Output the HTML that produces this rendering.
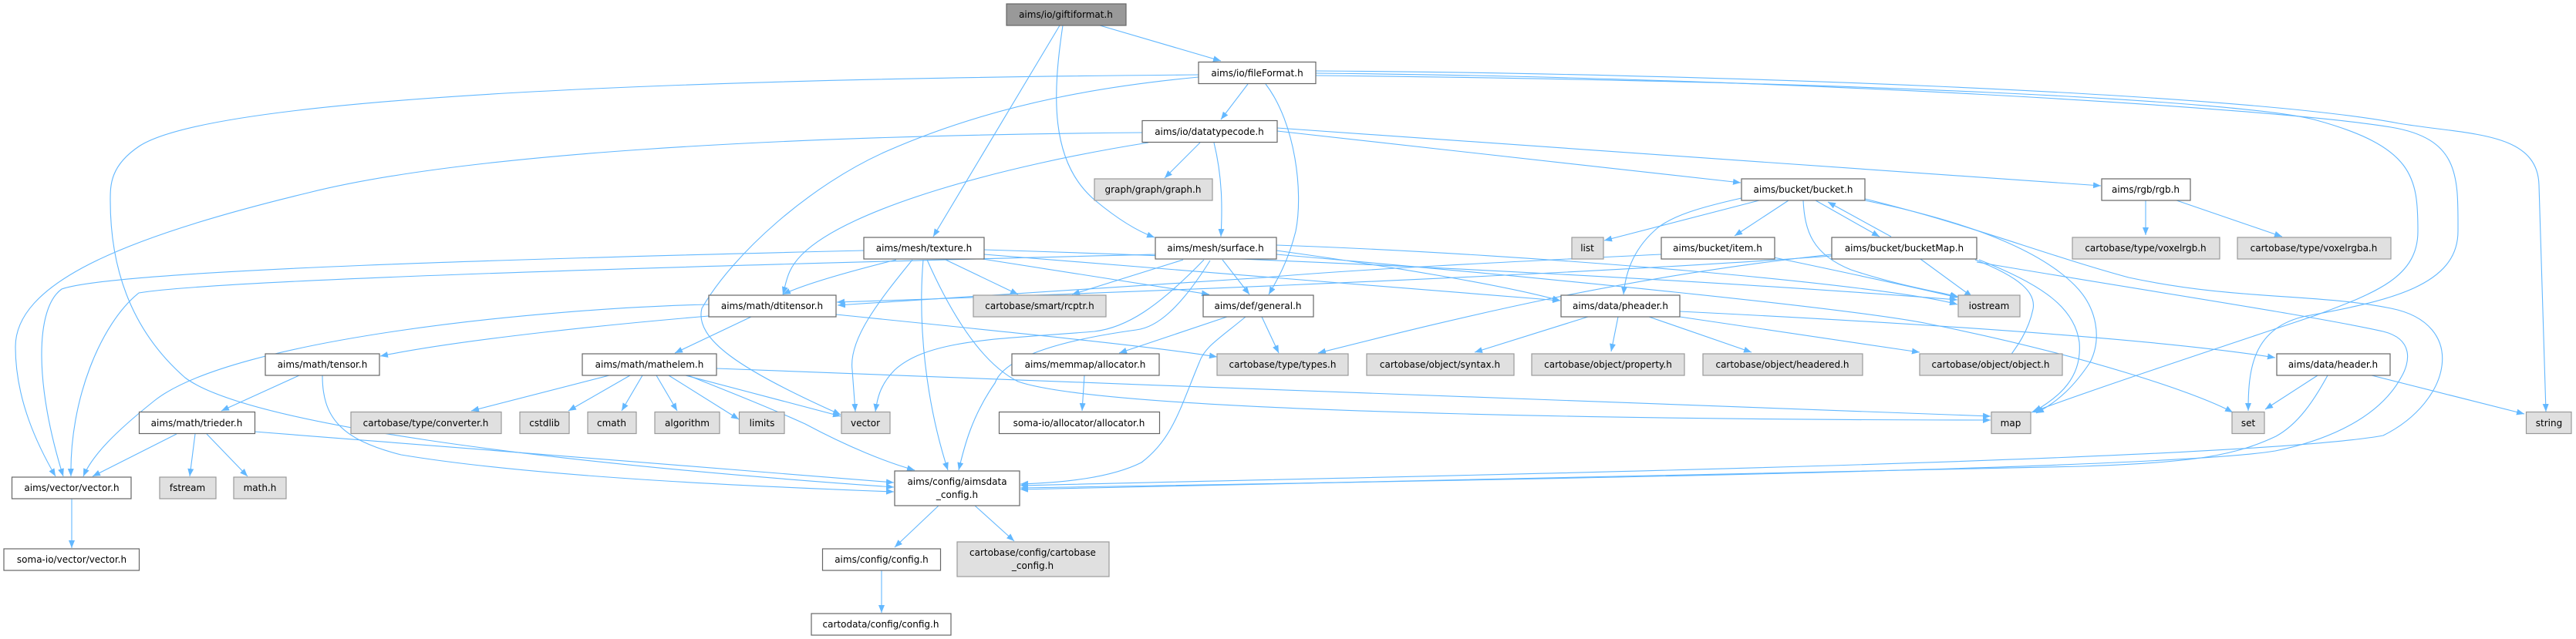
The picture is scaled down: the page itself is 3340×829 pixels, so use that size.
<!DOCTYPE html>
<html><head><meta charset="utf-8"><style>
html,body{margin:0;padding:0;background:#fff;}
svg{display:block;}
text{font-family:"DejaVu Sans","Liberation Sans",sans-serif;font-size:12px;fill:#000;text-anchor:middle;}
.e{fill:none;stroke:#63b8ff;stroke-width:1.1;marker-end:url(#a);}
.w{fill:#fff;stroke:#666;stroke-width:1.2;}
.g{fill:#e0e0e0;stroke:#999;stroke-width:1.2;}
</style></head><body>
<svg width="3340" height="829" viewBox="0 0 3340 829" xmlns="http://www.w3.org/2000/svg">
<defs><marker id="a" markerUnits="userSpaceOnUse" markerWidth="11" markerHeight="8" refX="10" refY="4" orient="auto"><path d="M0,0 L10,4 L0,8 z" fill="#63b8ff"/></marker></defs>
<g>
<path class="e" d="M1426,33 L1583,79"/>
<path class="e" d="M1374,33 L1210,307"/>
<path class="e" d="M1378,33 C1365,120 1360,210 1420,260 C1450,285 1475,300 1497,308"/>
<path class="e" d="M1554,97 C1200,100 300,110 180,190 C143,215 143,240 143,260 C143,330 160,420 240,490 C320,550 700,600 1159,632"/>
<path class="e" d="M1481,172 C1000,176 600,200 400,250 C150,310 20,370 20,450 C20,520 50,580 72,618"/>
<path class="e" d="M1120,325 C700,335 150,350 80,375 C45,400 45,500 82,618"/>
<path class="e" d="M1498,330 C1100,340 300,360 180,380 C130,420 90,520 92,618"/>
<path class="e" d="M919,395 C700,400 300,440 200,520 C150,560 120,590 108,618"/>
<path class="e" d="M1554,100 C1450,110 1300,130 1150,196 C1050,240 950,330 910,400 C900,440 960,480 1090,538"/>
<path class="e" d="M1618,109 L1583,155"/>
<path class="e" d="M1641,109 C1680,160 1690,250 1680,300 C1670,340 1655,365 1645,382"/>
<path class="e" d="M1706,92 C2200,95 2900,120 3110,160 C3200,175 3290,170 3292,240 L3301,534"/>
<path class="e" d="M1706,95 C2300,100 2950,140 3100,165 C3190,180 3187,230 3187,300 C3187,370 3100,390 2990,410 C2920,425 2915,480 2915,533"/>
<path class="e" d="M1706,98 C2400,105 2900,130 3000,155 C3130,190 3135,230 3135,300 C3135,360 3080,380 3000,410 C2850,460 2700,510 2634,535"/>
<path class="e" d="M1489,185 C1300,215 1100,270 1040,330 C1020,350 1020,365 1015,382"/>
<path class="e" d="M1556,185 L1510,231"/>
<path class="e" d="M1574,185 C1585,230 1585,270 1583,307"/>
<path class="e" d="M1656,170 L2257,237"/>
<path class="e" d="M1656,166 L2724,241"/>
<path class="e" d="M1162,337 C1090,355 1040,370 1015,382"/>
<path class="e" d="M1226,337 L1320,382"/>
<path class="e" d="M1274,336 L1568,382"/>
<path class="e" d="M1183,337 C1140,390 1100,440 1105,480 L1109,534"/>
<path class="e" d="M1197,337 C1190,420 1200,520 1229,610"/>
<path class="e" d="M1202,337 C1230,400 1270,470 1320,495 C1450,540 2300,545 2581,545"/>
<path class="e" d="M1276,330 L2023,390"/>
<path class="e" d="M1276,324 C1800,340 2300,370 2538,389"/>
<path class="e" d="M1534,337 L1390,382"/>
<path class="e" d="M1585,337 L1620,382"/>
<path class="e" d="M1561,337 C1500,400 1460,425 1419,430 C1300,440 1205,439 1160,480 C1140,500 1137,520 1135,534"/>
<path class="e" d="M1569,338 C1530,400 1500,425 1473,428 C1350,445 1300,470 1290,497 C1260,540 1250,580 1243,610"/>
<path class="e" d="M1655,325 C1800,345 1950,370 2023,390"/>
<path class="e" d="M1655,318 C2000,330 2450,370 2538,395"/>
<path class="e" d="M1655,330 C2000,360 2400,400 2500,420 C2700,460 2850,510 2895,535"/>
<path class="e" d="M2375,332 C2000,360 1300,385 1085,392"/>
<path class="e" d="M919,410 C800,420 600,440 493,462"/>
<path class="e" d="M974,411 L875,458"/>
<path class="e" d="M1084,408 C1300,430 1500,450 1578,463"/>
<path class="e" d="M388,487 L287,533"/>
<path class="e" d="M418,487 C418,540 440,570 520,590 C700,620 1000,632 1159,638"/>
<path class="e" d="M229,563 L120,618"/>
<path class="e" d="M253,563 L246,618"/>
<path class="e" d="M268,563 L321,618"/>
<path class="e" d="M330,560 C600,580 1000,615 1159,626"/>
<path class="e" d="M790,487 L611,533"/>
<path class="e" d="M817,487 L737,533"/>
<path class="e" d="M833,487 L806,533"/>
<path class="e" d="M851,487 L878,533"/>
<path class="e" d="M867,487 L958,544"/>
<path class="e" d="M889,487 L1090,540"/>
<path class="e" d="M892,487 C950,510 1000,530 1044,550 C1100,580 1150,600 1186,610"/>
<path class="e" d="M929,478 C1500,500 2300,530 2581,540"/>
<path class="e" d="M1591,411 L1451,458"/>
<path class="e" d="M1636,411 L1658,458"/>
<path class="e" d="M1615,411 C1580,440 1562,450 1555,470 C1530,530 1520,570 1480,600 C1440,620 1380,626 1323,628"/>
<path class="e" d="M1406,487 L1403,533"/>
<path class="e" d="M1217,656 L1160,710"/>
<path class="e" d="M1264,656 L1315,702"/>
<path class="e" d="M1143,740 L1143,795"/>
<path class="e" d="M93,647 L93,711"/>
<path class="e" d="M2281,260 L2080,312"/>
<path class="e" d="M2319,260 L2249,306"/>
<path class="e" d="M2354,260 L2437,307"/>
<path class="e" d="M2452,307 L2370,262"/>
<path class="e" d="M2258,257 C2200,270 2170,280 2150,295 C2120,320 2108,350 2105,382"/>
<path class="e" d="M2338,260 C2340,300 2350,330 2400,350 C2460,370 2510,378 2539,385"/>
<path class="e" d="M2418,260 C2540,285 2640,320 2690,370 C2720,400 2725,440 2710,470 C2690,500 2670,520 2640,536"/>
<path class="e" d="M2418,258 C2550,290 2650,330 2760,360 C2900,390 3000,380 3100,400 C3200,420 3180,520 3090,565 C2900,600 1700,620 1323,630"/>
<path class="e" d="M2490,336 L2557,385"/>
<path class="e" d="M2561,337 C2620,360 2640,380 2636,401 C2630,430 2615,450 2601,469"/>
<path class="e" d="M2566,337 C2650,370 2690,400 2696,444 C2700,490 2670,515 2637,534"/>
<path class="e" d="M2563,340 C2800,380 3000,410 3090,430 C3130,440 3125,470 3113,490 C3080,550 3000,575 2950,585 C2800,610 1800,625 1323,633"/>
<path class="e" d="M2375,330 C2100,360 1900,410 1709,458"/>
<path class="e" d="M2300,334 C2400,355 2480,372 2538,386"/>
<path class="e" d="M2154,330 C1950,340 1750,350 1640,360 C1350,380 1200,390 1086,396"/>
<path class="e" d="M2059,411 L1912,457"/>
<path class="e" d="M2098,411 L2089,456"/>
<path class="e" d="M2138,411 L2271,457"/>
<path class="e" d="M2178,411 L2489,457"/>
<path class="e" d="M2178,404 C2500,420 2800,440 2950,464"/>
<path class="e" d="M3005,487 L2937,531"/>
<path class="e" d="M3075,487 L3273,537"/>
<path class="e" d="M3018,487 C3000,520 2980,550 2951,566 C2900,590 2850,600 2700,605 C2300,615 1700,625 1323,635"/>
<path class="e" d="M2782,260 L2782,305"/>
<path class="e" d="M2822,260 L2959,307"/>
</g>
<g>
<rect x="1305" y="5" width="155" height="28" fill="#999" stroke="#666" stroke-width="1.2"/><text x="1382" y="23">aims/io/giftiformat.h</text>
<rect class="w" x="1554" y="80.5" width="152" height="28"/><text x="1630" y="99">aims/io/fileFormat.h</text>
<rect class="w" x="1481" y="156.5" width="175" height="28"/><text x="1568" y="175">aims/io/datatypecode.h</text>
<rect class="g" x="1419" y="232" width="153" height="28"/><text x="1495" y="250">graph/graph/graph.h</text>
<rect class="w" x="2258" y="232" width="160" height="28"/><text x="2338" y="250">aims/bucket/bucket.h</text>
<rect class="w" x="2725" y="232" width="115" height="28"/><text x="2782" y="250">aims/rgb/rgb.h</text>
<rect class="w" x="1120" y="308" width="156" height="28"/><text x="1198" y="326">aims/mesh/texture.h</text>
<rect class="w" x="1498" y="308" width="157" height="28"/><text x="1576" y="326">aims/mesh/surface.h</text>
<rect class="g" x="2038" y="308" width="41" height="28"/><text x="2058" y="326">list</text>
<rect class="w" x="2154" y="308" width="147" height="28"/><text x="2227" y="326">aims/bucket/item.h</text>
<rect class="w" x="2375" y="308" width="188" height="28"/><text x="2469" y="326">aims/bucket/bucketMap.h</text>
<rect class="g" x="2687" y="308" width="191" height="28"/><text x="2782" y="326">cartobase/type/voxelrgb.h</text>
<rect class="g" x="2901" y="308" width="199" height="28"/><text x="3000" y="326">cartobase/type/voxelrgba.h</text>
<rect class="w" x="919" y="383" width="165" height="28"/><text x="1001" y="401">aims/math/dtitensor.h</text>
<rect class="g" x="1262" y="383" width="172" height="28"/><text x="1348" y="401">cartobase/smart/rcptr.h</text>
<rect class="w" x="1560" y="383" width="143" height="28"/><text x="1631" y="401">aims/def/general.h</text>
<rect class="w" x="2024" y="383" width="154" height="28"/><text x="2101" y="401">aims/data/pheader.h</text>
<rect class="g" x="2539" y="383" width="80" height="28"/><text x="2579" y="401">iostream</text>
<rect class="w" x="344" y="459" width="148" height="28"/><text x="418" y="477">aims/math/tensor.h</text>
<rect class="w" x="755" y="459" width="174" height="28"/><text x="842" y="477">aims/math/mathelem.h</text>
<rect class="w" x="1312" y="459" width="191" height="28"/><text x="1407" y="477">aims/memmap/allocator.h</text>
<rect class="g" x="1578" y="459" width="170" height="28"/><text x="1663" y="477">cartobase/type/types.h</text>
<rect class="g" x="1772" y="459" width="191" height="28"/><text x="1867" y="477">cartobase/object/syntax.h</text>
<rect class="g" x="1986" y="459" width="198" height="28"/><text x="2085" y="477">cartobase/object/property.h</text>
<rect class="g" x="2208" y="459" width="207" height="28"/><text x="2311" y="477">cartobase/object/headered.h</text>
<rect class="g" x="2489" y="459" width="185" height="28"/><text x="2581" y="477">cartobase/object/object.h</text>
<rect class="w" x="2952" y="459" width="147" height="28"/><text x="3025" y="477">aims/data/header.h</text>
<rect class="w" x="180.5" y="534.5" width="150" height="28"/><text x="255" y="553">aims/math/trieder.h</text>
<rect class="g" x="455" y="534.5" width="195" height="28"/><text x="552" y="553">cartobase/type/converter.h</text>
<rect class="g" x="674" y="534.5" width="64" height="28"/><text x="706" y="553">cstdlib</text>
<rect class="g" x="762" y="534.5" width="63" height="28"/><text x="793" y="553">cmath</text>
<rect class="g" x="849" y="534.5" width="84" height="28"/><text x="891" y="553">algorithm</text>
<rect class="g" x="958.5" y="534.5" width="58.5" height="28"/><text x="988" y="553">limits</text>
<rect class="g" x="1091" y="534.5" width="63" height="28"/><text x="1122" y="553">vector</text>
<rect class="w" x="1295.5" y="534.5" width="208" height="28"/><text x="1399" y="553">soma-io/allocator/allocator.h</text>
<rect class="g" x="2582" y="534.5" width="51" height="28"/><text x="2607" y="553">map</text>
<rect class="g" x="2894" y="534.5" width="42" height="28"/><text x="2915" y="553">set</text>
<rect class="g" x="3275.5" y="534.5" width="58.5" height="28"/><text x="3305" y="553">string</text>
<rect class="w" x="15.5" y="619" width="154.5" height="28"/><text x="93" y="637">aims/vector/vector.h</text>
<rect class="g" x="207" y="619" width="73" height="28"/><text x="243" y="637">fstream</text>
<rect class="g" x="303" y="619" width="68" height="28"/><text x="337" y="637">math.h</text>
<rect class="w" x="1160" y="611" width="162" height="45"/><text x="1241" y="629">aims/config/aimsdata</text><text x="1241" y="646">_config.h</text>
<rect class="w" x="5" y="712" width="175.5" height="28"/><text x="93" y="730">soma-io/vector/vector.h</text>
<rect class="w" x="1066.5" y="712" width="153" height="28"/><text x="1143" y="730">aims/config/config.h</text>
<rect class="g" x="1241" y="703" width="197" height="45"/><text x="1339" y="721">cartobase/config/cartobase</text><text x="1339" y="738">_config.h</text>
<rect class="w" x="1052" y="796" width="181" height="28"/><text x="1142" y="814">cartodata/config/config.h</text>
</g>
</svg>
</body></html>
